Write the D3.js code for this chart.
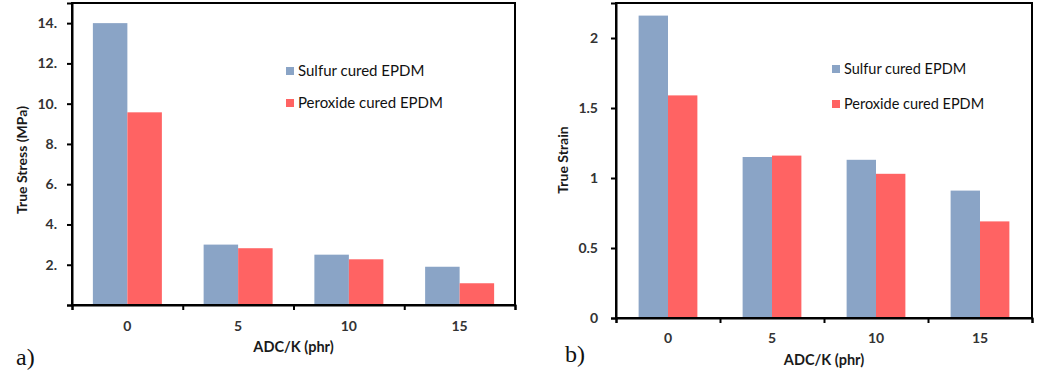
<!DOCTYPE html>
<html>
<head>
<meta charset="utf-8">
<script src="https://cdn.jsdelivr.net/npm/d3@7"></script>
<style>
    body { margin: 0; background: #fff; }
    svg { display: block; }
    .tick text { font-family: Lato, "Open Sans", sans-serif; font-weight: bold; fill: #333; }
    .legend { font-family: Lato, "Open Sans", sans-serif; fill: #111; }
    .axisTitle { font-family: Lato, "Open Sans", sans-serif; font-weight: bold; fill: #1a1a1a; }
    .panelTag { font-family: "Liberation Serif", "DejaVu Serif", serif; fill: #111; }
</style>
</head>
<body>
<div id="chart"></div>
<script>
    // data
    let categories = ["0", "5", "10", "15"];
    let seriesNames = ["Sulfur cured EPDM", "Peroxide cured EPDM"];
    let stressSulfur = [14.0, 3.0, 2.5, 1.9];
    let stressPeroxide = [9.57, 2.82, 2.27, 1.08];
    let strainSulfur = [2.16, 1.15, 1.13, 0.91];
    let strainPeroxide = [1.59, 1.16, 1.03, 0.69];
    let stressTicks = [0, 2, 4, 6, 8, 10, 12, 14];
    let strainTicks = [0, 0.5, 1, 1.5, 2];

    let colors = ["#8aa4c6", "#ff6363"];

    let svg = d3.select("#chart")
        .append("svg")
        .attr("width", 1064)
        .attr("height", 375);

    function drawPanel(p){
        let g = svg.append("g");

        let y = d3.scaleLinear()
            .domain([0, p.yMax])
            .range([p.bottom, p.top]);

        let x = d3.scaleBand()
            .domain(categories)
            .range([p.left, p.right])
            .paddingInner(p.pad)
            .paddingOuter(p.pad / 2);

        let xSub = d3.scaleBand()
            .domain([0, 1])
            .range([0, x.bandwidth()]);

        // bars
        let rows = categories.map((c, i) => ({cat: c, vals: [p.s1[i], p.s2[i]]}));
        g.selectAll(".grp")
            .data(rows)
            .join("g")
            .attr("class", "grp")
            .attr("transform", d => `translate(${x(d.cat)}, 0)`)
            .selectAll("rect")
            .data(d => d.vals)
            .join("rect")
            .attr("x", (d, i) => xSub(i))
            .attr("y", d => y(d))
            .attr("width", xSub.bandwidth())
            .attr("height", d => y(0) - y(d))
            .attr("fill", (d, i) => colors[i]);

        // frame
        g.append("rect")
            .attr("x", p.left)
            .attr("y", p.top)
            .attr("width", p.right - p.left)
            .attr("height", p.bottom - p.top)
            .attr("fill", "none")
            .attr("stroke", "#000")
            .attr("stroke-width", 2);

        // y axis
        let yAxis = g.append("g")
            .attr("transform", `translate(${p.left}, 0)`)
            .call(d3.axisLeft(y)
                .tickValues(p.yTicks)
                .tickSize(5)
                .tickPadding(p.tickPad)
                .tickFormat(p.fmt));
        yAxis.select(".domain").attr("stroke-width", 2);
        yAxis.selectAll(".tick line").attr("stroke-width", 2);
        yAxis.selectAll(".tick text").style("font-size", p.tickFont + "px");

        // x axis: ticks between categories, labels at centres
        let xEdges = d3.scaleLinear().domain([0, 4]).range([p.left, p.right]);
        let xTicks = g.append("g")
            .attr("transform", `translate(0, ${p.bottom})`)
            .call(d3.axisBottom(xEdges).ticks(4).tickSize(5).tickFormat(""));
        xTicks.select(".domain").attr("stroke-width", 2);
        xTicks.selectAll(".tick line").attr("stroke-width", 2);

        let xLabels = g.append("g")
            .attr("transform", `translate(0, ${p.bottom})`)
            .call(d3.axisBottom(x).tickSize(0).tickPadding(p.xLabPad));
        xLabels.select(".domain").remove();
        xLabels.selectAll(".tick text").style("font-size", p.tickFont + "px");

        // axis titles
        g.append("text")
            .attr("class", "axisTitle")
            .attr("text-anchor", "middle")
            .attr("x", (p.left + p.right) / 2)
            .attr("y", p.xTitleY)
            .style("font-size", "14.5px")
            .text("ADC/K (phr)");
        g.append("text")
            .attr("class", "axisTitle")
            .attr("text-anchor", "middle")
            .attr("transform", `translate(${p.yTitleX}, ${p.yTitleMid}) rotate(-90)`)
            .style("font-size", "14px")
            .text(p.yTitle);

        // legend
        seriesNames.forEach((name, i) => {
            g.append("rect")
                .attr("x", p.legX)
                .attr("y", p.legY[i] - 9)
                .attr("width", 8)
                .attr("height", 8)
                .attr("fill", colors[i]);
            g.append("text")
                .attr("class", "legend")
                .attr("x", p.legX + 12)
                .attr("y", p.legY[i])
                .style("font-size", p.legFont + "px")
                .text(name);
        });

        // panel tag
        g.append("text")
            .attr("class", "panelTag")
            .attr("x", p.tagX)
            .attr("y", p.tagY)
            .style("font-size", "24px")
            .text(p.tag);
    }

    drawPanel({
        left: 72, right: 515, top: 3, bottom: 305,
        yMax: 15, yTicks: stressTicks,
        fmt: d => d === 0 ? "" : d + ".",
        s1: stressSulfur, s2: stressPeroxide,
        pad: 0.377, tickPad: 10, tickFont: 14, xLabPad: 16,
        xTitleY: 352, yTitleX: 27, yTitleMid: 160, yTitle: "True Stress (MPa)",
        legX: 286, legY: [76, 108], legFont: 15,
        tag: "a)", tagX: 16, tagY: 365
    });

    drawPanel({
        left: 616, right: 1032, top: 3, bottom: 318,
        yMax: 2.25, yTicks: strainTicks,
        fmt: d => d,
        s1: strainSulfur, s2: strainPeroxide,
        pad: 0.435, tickPad: 13, tickFont: 14, xLabPad: 15,
        xTitleY: 365, yTitleX: 568, yTitleMid: 160, yTitle: "True Strain",
        legX: 832, legY: [74, 109], legFont: 14.5,
        tag: "b)", tagX: 565, tagY: 362
    });
</script>
</body>
</html>
